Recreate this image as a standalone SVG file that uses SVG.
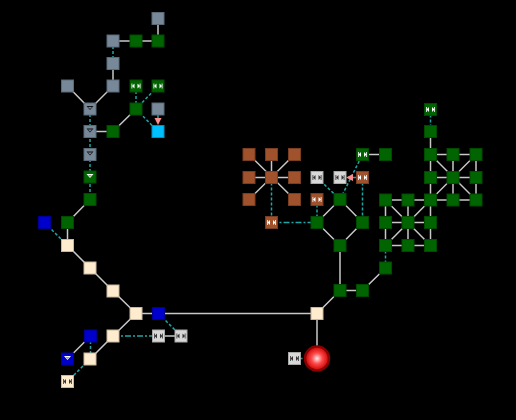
<svg xmlns="http://www.w3.org/2000/svg" width="516" height="420" viewBox="0 0 516 420">
<style>
.s{stroke:#c8c8c8;stroke-width:1.5;fill:none}
.d{stroke:#1fa5a5;stroke-width:1.5;fill:none;stroke-dasharray:3,2}
.dd{stroke:#1fa5a5;stroke-width:1.5;fill:none;stroke-dasharray:6,2,2,2}
.n rect{stroke-width:1}
.gray{fill:#778899;stroke:#5b6a79}
.green{fill:#006400;stroke:#004a00}
.cyan{fill:#00bfff;stroke:#0090c0}
.blue{fill:#0000cd;stroke:#000099}
.cream{fill:#ffebcd;stroke:#c8b8a0}
.brown{fill:#a0522d;stroke:#7a3d20}
.lg{fill:#d8d8d8;stroke:#a8a8a8}
</style>
<defs>
<g id="lrw" fill="#ffffff">
<polygon points="-1.5,-2.5 -4,0 -1.5,2.5"/><rect x="-4.5" y="-2.5" width="0.8" height="5"/>
<polygon points="1.5,-2.5 4,0 1.5,2.5"/><rect x="3.7" y="-2.5" width="0.8" height="5"/>
</g>
<g id="lrk" fill="#333333">
<polygon points="-1.5,-2.5 -4,0 -1.5,2.5"/><rect x="-4.5" y="-2.5" width="0.8" height="5"/>
<polygon points="1.5,-2.5 4,0 1.5,2.5"/><rect x="3.7" y="-2.5" width="0.8" height="5"/>
</g>
<g id="tk"><polygon points="-3.5,-3 3.5,-3 0,1" fill="#111"/><polygon points="-2,-2 2,-2 0,0" fill="#778899"/></g>
<g id="tw"><polygon points="-3.5,-3 3.5,-3 0,1" fill="#fff"/><polygon points="-2,-2 2,-2 0,0" fill="#8a8"/></g>
<marker id="ah" markerWidth="8" markerHeight="8" refX="7" refY="4" orient="auto" markerUnits="userSpaceOnUse">
<polygon points="0,0.5 7,4 0,7.5" fill="#ff8c8c"/>
</marker>
<radialGradient id="rg" cx="0.5" cy="0.5" r="0.5">
<stop offset="0" stop-color="#ffe8e8"/>
<stop offset="0.45" stop-color="#ff4a4a"/>
<stop offset="1" stop-color="#c80000"/>
</radialGradient>
</defs>
<rect width="516" height="420" fill="#000"/>
<g id="connectors">
<line class="s" x1="158" y1="18" x2="158" y2="41"/>
<line class="s" x1="113" y1="41" x2="158" y2="41"/>
<line class="d" x1="113" y1="41" x2="113" y2="63.5"/>
<line class="s" x1="113" y1="63.5" x2="113" y2="86"/>
<line class="s" x1="67.5" y1="86" x2="90" y2="109"/>
<line class="s" x1="113" y1="86" x2="90" y2="109"/>
<line class="d" x1="90" y1="109" x2="90" y2="199.5"/>
<line class="s" x1="90" y1="131.5" x2="113" y2="131.5"/>
<line class="s" x1="113" y1="131.5" x2="136" y2="109"/>
<line class="d" x1="136" y1="86" x2="136" y2="109"/>
<line class="d" x1="158" y1="86" x2="136" y2="109"/>
<line class="d" x1="136" y1="109" x2="158" y2="131.5"/>
<line class="d" x1="158" y1="115" x2="158" y2="125" marker-end="url(#ah)"/>
<line class="s" x1="90" y1="199.5" x2="67.5" y2="222.5"/>
<line class="s" x1="67.5" y1="222.5" x2="67.5" y2="245.5"/>
<line class="d" x1="44.5" y1="222.5" x2="67.5" y2="245.5"/>
<polyline class="s" points="67.5,245.5 90,268 113,291 136,313.5 113,336 90,359"/>
<line class="s" x1="90.5" y1="336" x2="67.5" y2="359"/>
<line class="d" x1="90.5" y1="336" x2="90.5" y2="359"/>
<line class="d" x1="90" y1="359" x2="67.5" y2="381.5"/>
<line class="dd" x1="113" y1="336" x2="158" y2="336"/>
<line class="s" x1="158" y1="336" x2="181" y2="336"/>
<line class="d" x1="158.5" y1="313.5" x2="181" y2="336"/>
<line class="s" x1="136" y1="313.5" x2="317" y2="313.5"/>
<line class="s" x1="317" y1="313.5" x2="317" y2="358.5"/>
<line class="d" x1="294.5" y1="358.5" x2="317" y2="358.5"/>
<polyline class="s" points="317,313.5 340,290.5 362.5,290.5 385.5,268"/>
<line class="s" x1="340" y1="290.5" x2="340" y2="245.5"/>
<polygon class="s" points="340,199.5 362.5,222.5 340,245.5 317,222.5"/>
<line class="d" x1="317" y1="199.5" x2="317" y2="222.5"/>
<line class="dd" x1="271.5" y1="222.5" x2="317" y2="222.5"/>
<line class="d" x1="271.5" y1="177.5" x2="271.5" y2="222.5"/>
<line class="s" x1="249" y1="154.5" x2="294.5" y2="199.5"/>
<line class="s" x1="294.5" y1="154.5" x2="249" y2="199.5"/>
<line class="s" x1="271.5" y1="154.5" x2="271.5" y2="177.5"/>
<line class="s" x1="249" y1="177.5" x2="294.5" y2="177.5"/>
<line class="d" x1="317" y1="177.5" x2="340" y2="199.5"/>
<line class="d" x1="340" y1="199.5" x2="362.5" y2="154.5"/>
<line class="d" x1="362.5" y1="177.5" x2="362.5" y2="222.5"/>
<line class="d" x1="356" y1="177.5" x2="346" y2="177.5" marker-end="url(#ah)"/>
<line class="s" x1="362.5" y1="154.5" x2="385.5" y2="154.5"/>
<line class="d" x1="430.5" y1="109.5" x2="430.5" y2="131.5"/>
<line class="s" x1="430.5" y1="131.5" x2="430.5" y2="154.5"/>
<g class="s">
<line x1="430.5" y1="154.5" x2="476" y2="154.5"/>
<line x1="430.5" y1="177.5" x2="476" y2="177.5"/>
<line x1="385.5" y1="200" x2="476" y2="200"/>
<line x1="385.5" y1="222.5" x2="430.5" y2="222.5"/>
<line x1="385.5" y1="245.5" x2="430.5" y2="245.5"/>
<line x1="430.5" y1="154.5" x2="430.5" y2="245.5"/>
<line x1="453" y1="154.5" x2="453" y2="200"/>
<line x1="476" y1="154.5" x2="476" y2="200"/>
<line x1="385.5" y1="200" x2="385.5" y2="245.5"/>
<line x1="408" y1="200" x2="408" y2="245.5"/>
<line x1="430.5" y1="154.5" x2="476" y2="200"/>
<line x1="476" y1="154.5" x2="430.5" y2="200"/>
<line x1="385.5" y1="200" x2="430.5" y2="245.5"/>
<line x1="430.5" y1="200" x2="385.5" y2="245.5"/>
</g>
<line class="d" x1="385.5" y1="245.5" x2="385.5" y2="268"/>
</g>
<g class="n">
<g id="n1"><rect class="gray" x="152" y="12.5" width="12" height="12"/></g>
<g id="n2"><rect class="gray" x="107" y="35" width="12" height="12"/></g>
<g id="n3"><rect class="green" x="130" y="35" width="12" height="12"/></g>
<g id="n4"><rect class="green" x="152" y="35" width="12" height="12"/></g>
<g id="n5"><rect class="gray" x="107" y="57.5" width="12" height="12"/></g>
<g id="n6"><rect class="gray" x="61.5" y="80" width="12" height="12"/></g>
<g id="n7"><rect class="gray" x="107" y="80" width="12" height="12"/></g>
<g id="n8"><rect class="green" x="130" y="80" width="12" height="12"/><use href="#lrw" x="136" y="86"/></g>
<g id="n9"><rect class="green" x="152" y="80" width="12" height="12"/><use href="#lrw" x="158" y="86"/></g>
<g id="n10"><rect class="gray" x="84" y="103" width="12" height="12"/><use href="#tk" x="90" y="109"/></g>
<g id="n11"><rect class="green" x="130" y="103" width="12" height="12"/></g>
<g id="n12"><rect class="gray" x="152" y="103" width="12" height="12"/></g>
<g id="n13"><rect class="gray" x="84" y="125.5" width="12" height="12"/><use href="#tk" x="90" y="131.5"/></g>
<g id="n14"><rect class="green" x="107" y="125.5" width="12" height="12"/></g>
<g id="n15"><rect class="cyan" x="152" y="125.5" width="12" height="12"/></g>
<g id="n16"><rect class="gray" x="84" y="148.5" width="12" height="12"/><use href="#tk" x="90" y="154.5"/></g>
<g id="n17"><rect class="green" x="84" y="171" width="12" height="12"/><use href="#tw" x="90" y="177"/></g>
<g id="n18"><rect class="green" x="84" y="193.5" width="12" height="12"/></g>
<g id="n19"><rect class="blue" x="38.5" y="216.5" width="12" height="12"/></g>
<g id="n20"><rect class="green" x="61.5" y="216.5" width="12" height="12"/></g>
<g id="n21"><rect class="cream" x="61.5" y="239.5" width="12" height="12"/></g>
<g id="n22"><rect class="cream" x="84" y="262" width="12" height="12"/></g>
<g id="n23"><rect class="cream" x="107" y="285" width="12" height="12"/></g>
<g id="n24"><rect class="cream" x="130" y="307.5" width="12" height="12"/></g>
<g id="n25"><rect class="blue" x="152.5" y="307.5" width="12" height="12"/></g>
<g id="n26"><rect class="blue" x="84.5" y="330" width="12" height="12"/></g>
<g id="n27"><rect class="cream" x="107" y="330" width="12" height="12"/></g>
<g id="n28"><rect class="lg" x="152.5" y="330" width="12" height="12"/><use href="#lrk" x="158.5" y="336"/></g>
<g id="n29"><rect class="lg" x="175" y="330" width="12" height="12"/><use href="#lrk" x="181" y="336"/></g>
<g id="n30"><rect class="blue" x="61.5" y="353" width="12" height="12"/><use href="#tw" x="67.5" y="359"/></g>
<g id="n31"><rect class="cream" x="84" y="353" width="12" height="12"/></g>
<g id="n32"><rect class="cream" x="61.5" y="375.5" width="12" height="12"/><use href="#lrk" x="67.5" y="381.5"/></g>
<g id="n33"><rect class="brown" x="243" y="148.5" width="12" height="12"/></g>
<g id="n34"><rect class="brown" x="265.5" y="148.5" width="12" height="12"/></g>
<g id="n35"><rect class="brown" x="288.5" y="148.5" width="12" height="12"/></g>
<g id="n36"><rect class="brown" x="243" y="171.5" width="12" height="12"/></g>
<g id="n37"><rect class="brown" x="265.5" y="171.5" width="12" height="12"/></g>
<g id="n38"><rect class="brown" x="288.5" y="171.5" width="12" height="12"/></g>
<g id="n39"><rect class="brown" x="243" y="193.5" width="12" height="12"/></g>
<g id="n40"><rect class="brown" x="288.5" y="193.5" width="12" height="12"/></g>
<g id="n41"><rect class="lg" x="311" y="171.5" width="12" height="12"/><use href="#lrk" x="317" y="177.5"/></g>
<g id="n42"><rect class="lg" x="334" y="171.5" width="12" height="12"/><use href="#lrk" x="340" y="177.5"/></g>
<g id="n43"><rect class="brown" x="356.5" y="171.5" width="12" height="12"/><use href="#lrw" x="362.5" y="177.5"/></g>
<g id="n44"><rect class="green" x="356.5" y="148.5" width="12" height="12"/><use href="#lrw" x="362.5" y="154.5"/></g>
<g id="n45"><rect class="green" x="379.5" y="148.5" width="12" height="12"/></g>
<g id="n46"><rect class="brown" x="311" y="193.5" width="12" height="12"/><use href="#lrw" x="317" y="199.5"/></g>
<g id="n47"><rect class="green" x="334" y="193.5" width="12" height="12"/></g>
<g id="n48"><rect class="brown" x="265.5" y="216.5" width="12" height="12"/><use href="#lrw" x="271.5" y="222.5"/></g>
<g id="n49"><rect class="green" x="311" y="216.5" width="12" height="12"/></g>
<g id="n50"><rect class="green" x="356.5" y="216.5" width="12" height="12"/></g>
<g id="n51"><rect class="green" x="334" y="239.5" width="12" height="12"/></g>
<g id="n52"><rect class="green" x="334" y="284.5" width="12" height="12"/></g>
<g id="n53"><rect class="green" x="356.5" y="284.5" width="12" height="12"/></g>
<g id="n54"><rect class="green" x="379.5" y="262" width="12" height="12"/></g>
<g id="n55"><rect class="cream" x="311" y="307.5" width="12" height="12"/></g>
<g id="n56"><rect class="lg" x="288.5" y="352.5" width="12" height="12"/><use href="#lrk" x="294.5" y="358.5"/></g>
<g id="n57"><circle cx="317" cy="358.5" r="12" fill="url(#rg)" stroke="#8a0000" stroke-width="2.5"/></g>
<g id="n58"><rect class="green" x="424.5" y="103.5" width="12" height="12"/><use href="#lrw" x="430.5" y="109.5"/></g>
<g id="n59"><rect class="green" x="424.5" y="125.5" width="12" height="12"/></g>
<g id="n60"><rect class="green" x="424.5" y="148.5" width="12" height="12"/></g>
<g id="n61"><rect class="green" x="447" y="148.5" width="12" height="12"/></g>
<g id="n62"><rect class="green" x="470" y="148.5" width="12" height="12"/></g>
<g id="n63"><rect class="green" x="424.5" y="171.5" width="12" height="12"/></g>
<g id="n64"><rect class="green" x="447" y="171.5" width="12" height="12"/></g>
<g id="n65"><rect class="green" x="470" y="171.5" width="12" height="12"/></g>
<g id="n66"><rect class="green" x="379.5" y="194" width="12" height="12"/></g>
<g id="n67"><rect class="green" x="402" y="194" width="12" height="12"/></g>
<g id="n68"><rect class="green" x="424.5" y="194" width="12" height="12"/></g>
<g id="n69"><rect class="green" x="447" y="194" width="12" height="12"/></g>
<g id="n70"><rect class="green" x="470" y="194" width="12" height="12"/></g>
<g id="n71"><rect class="green" x="379.5" y="216.5" width="12" height="12"/></g>
<g id="n72"><rect class="green" x="402" y="216.5" width="12" height="12"/></g>
<g id="n73"><rect class="green" x="424.5" y="216.5" width="12" height="12"/></g>
<g id="n74"><rect class="green" x="379.5" y="239.5" width="12" height="12"/></g>
<g id="n75"><rect class="green" x="402" y="239.5" width="12" height="12"/></g>
<g id="n76"><rect class="green" x="424.5" y="239.5" width="12" height="12"/></g>
</g>
</svg>
